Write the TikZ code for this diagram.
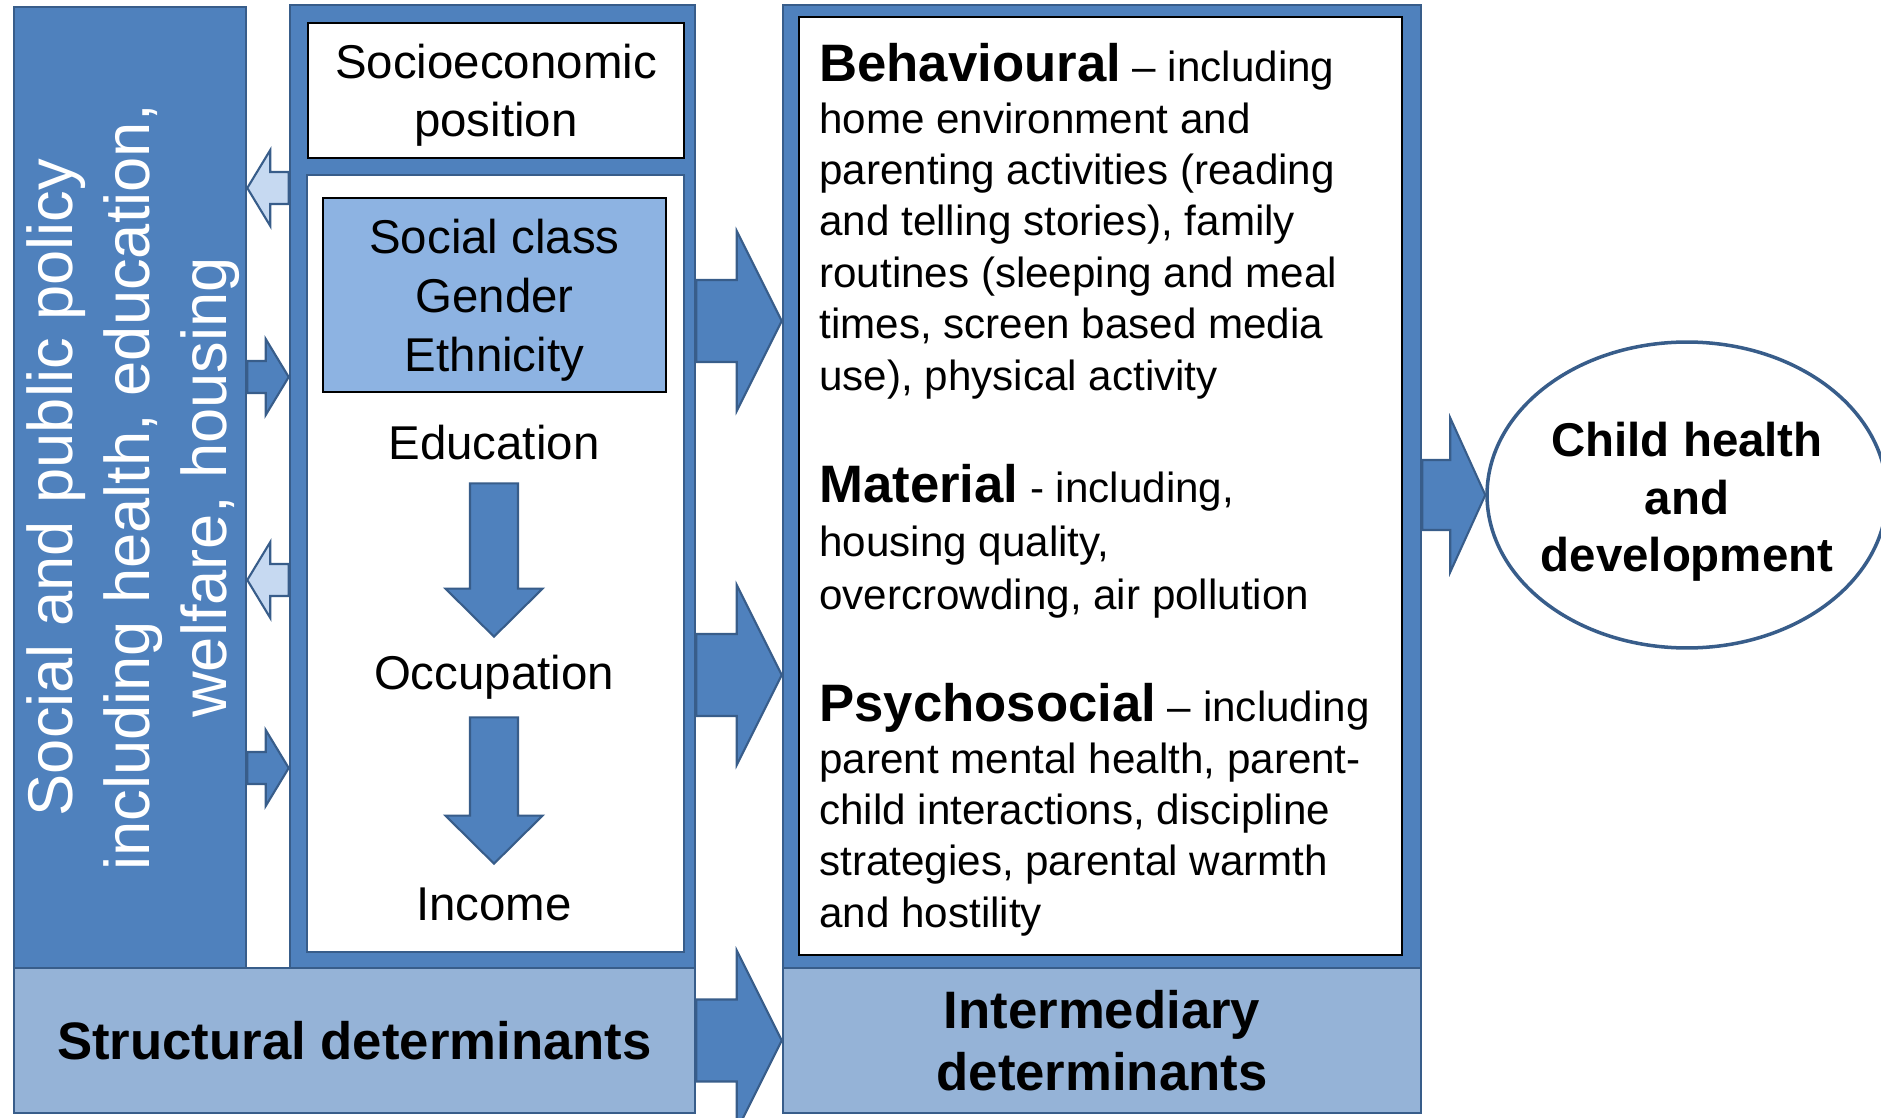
\documentclass[tikz,border=0pt]{standalone}
\usepackage{fontspec}
\setmainfont{Liberation Sans}
\usetikzlibrary{calc,positioning,shapes.geometric}

\definecolor{mainblue}{HTML}{4F81BD}
\definecolor{edgeblue}{HTML}{385D8A}
\definecolor{classblue}{HTML}{8DB3E2}
\definecolor{paleblue}{HTML}{95B3D7}
\definecolor{arrowlight}{HTML}{C6D9F1}

\tikzset{
    frame/.style = {draw=edgeblue, line width=1.5pt, fill=mainblue, inner sep=0pt},
    whitebox/.style = {draw=black, line width=0.8pt, fill=white, inner sep=0pt, align=center, text depth=0pt},
    midtext/.style = {font=\fontsize{27}{33}\selectfont, minimum height=1.6cm, inner sep=0pt},
    bodytext/.style = {font=\fontsize{24}{29.3}\selectfont, align=left, inner sep=0pt, anchor=north west},
    bigbold/.style = {font=\fontsize{30}{35.5}\selectfont\bfseries, align=center},
    barrow/.style = {draw=edgeblue, line width=1.2pt, fill=mainblue, line join=miter},
    lightarrow/.style = {fill=arrowlight},
}
\newcommand\headword[1]{{\fontsize{30}{30}\selectfont\bfseries #1}}
% block arrow from #2 to #3: shaft half width, head half width, head length
\newcommand\blockarrow[6][]{%
  \coordinate (bah) at ($(#3)!#6!(#2)$);
  \draw[barrow,#1] ($(#2)!#4!90:(#3)$) -- ($(bah)!#4!90:(#3)$) -- ($(bah)!#5!90:(#3)$)
     -- (#3) -- ($(bah)!#5!-90:(#3)$) -- ($(bah)!#4!-90:(#3)$) -- ($(#2)!#4!-90:(#3)$) -- cycle;}

\begin{document}
\begin{tikzpicture}[x=0.02cm, y=-0.02cm]
\useasboundingbox (0,0) rectangle (1881,1118);

% structural determinants
\node (policy) [frame, minimum width=4.64cm, minimum height=19.22cm] at (130,487.5) {};
\node (poltext) [rotate=90, text=white, font=\fontsize{36}{44}\selectfont, align=center] at (133,487.5)
    {Social and public policy\\including health, education,\\welfare, housing};
\node (mid) [frame, minimum width=8.1cm, minimum height=19.26cm] at (492.5,486.5) {};
\node (sep) [whitebox, minimum width=7.52cm, minimum height=2.7cm, font=\fontsize{27}{33}\selectfont] at (496,90.5)
    {Socioeconomic\\position};
\node (lower) [whitebox, draw=edgeblue, line width=1.5pt, minimum width=7.54cm, minimum height=15.54cm] at (495.5,563.5) {};
\node (class) [whitebox, fill=classblue, minimum width=6.86cm, minimum height=3.88cm, font=\fontsize{27}{33.5}\selectfont] at (494.5,295)
    {Social class\\Gender\\Ethnicity};
\node (edu) [midtext] at (494,443) {Education};
\node (occ) [midtext] at (494,677) {Occupation};
\node (inc) [midtext] at (494,904) {Income};
\node (struct) [frame, fill=paleblue, minimum width=13.62cm, minimum height=2.9cm, bigbold] at (354.5,1040.5)
    {Structural determinants};

% intermediary determinants
\node (rframe) [frame, minimum width=12.76cm, minimum height=19.26cm] at (1102,486.5) {};
\node (inner) [whitebox, minimum width=12.06cm, minimum height=18.76cm] at (1100.5,486) {};
\node (behav) [bodytext] at (819,43) {\headword{Behavioural} – including\\home environment and\\parenting activities (reading\\and telling stories), family\\routines (sleeping and meal\\times, screen based media\\use), physical activity};
\node (mat) [bodytext, font=\fontsize{24}{30.5}\selectfont] at (819,464) {\headword{Material} - including,\\housing quality,\\overcrowding, air pollution};
\node (psy) [bodytext] at (819,683) {\headword{Psychosocial} – including\\parent mental health, parent-\\child interactions, discipline\\strategies, parental warmth\\and hostility};
\node (inter) [frame, fill=paleblue, minimum width=12.76cm, minimum height=2.9cm, bigbold, text depth=0pt] at (1102,1040.5)
    {Intermediary\\determinants};

% outcome
\node (child) [ellipse, draw=edgeblue, line width=2pt, fill=white, minimum width=8cm, minimum height=6.12cm, inner sep=0pt] at (1687,495) {};
\node (childtext) [font=\fontsize{27}{32.8}\selectfont\bfseries, align=center, text depth=0pt] at (1687,497)
    {Child health\\and\\development};

% arrows
\blockarrow[lightarrow]{mid.west |- 0,188}{policy.east |- 0,188}{0.32cm}{0.76cm}{0.46cm}
\blockarrow{policy.east |- 0,377}{mid.west |- 0,377}{0.32cm}{0.76cm}{0.46cm}
\blockarrow[lightarrow]{mid.west |- 0,580}{policy.east |- 0,580}{0.32cm}{0.76cm}{0.46cm}
\blockarrow{policy.east |- 0,768}{mid.west |- 0,768}{0.32cm}{0.76cm}{0.46cm}
\blockarrow{edu.south}{occ.north}{0.48cm}{0.97cm}{0.96cm}
\blockarrow{occ.south}{inc.north}{0.48cm}{0.97cm}{0.96cm}
\blockarrow{mid.east |- 0,321}{rframe.west |- 0,321}{0.82cm}{1.8cm}{0.9cm}
\blockarrow{mid.east |- 0,675}{rframe.west |- 0,675}{0.82cm}{1.8cm}{0.9cm}
\blockarrow{struct.east}{inter.west}{0.82cm}{1.8cm}{0.9cm}
\blockarrow{rframe.east |- child}{child.west}{0.7cm}{1.54cm}{0.7cm}
\end{tikzpicture}
\end{document}
